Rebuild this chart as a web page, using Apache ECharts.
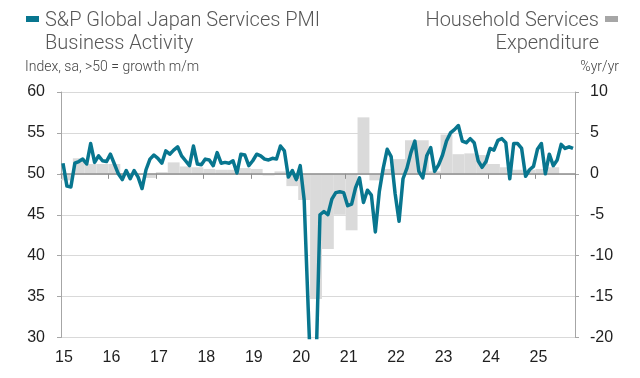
<!DOCTYPE html>
<html><head><meta charset="utf-8">
<script src="https://cdn.jsdelivr.net/npm/echarts@6/dist/echarts.min.js"></script>
<style>html,body{margin:0;padding:0;background:#fff}#c{width:640px;height:378px}</style>
</head><body><div id="c"></div>
<script>
// Year tick labels (Jan of each year, 2015..2025)
const yearLabels = ['15','16','17','18','19','20','21','22','23','24','25'];

// S&P Global Japan Services PMI Business Activity, monthly Jan 2015 - Oct 2025
const pmi2015 = [51.3,48.5,48.4,51.3,51.5,51.8,51.2,53.7,51.4,52.2,51.6,51.5];
const pmi2016 = [52.4,51.2,50.0,49.3,50.4,49.4,50.4,49.6,48.2,50.5,51.8,52.3];
const pmi2017 = [51.9,51.3,52.8,52.4,52.9,53.3,52.2,51.6,51.0,53.4,51.2,51.1];
const pmi2018 = [51.8,51.7,51.0,52.6,51.3,51.4,51.3,51.6,50.1,52.4,52.3,51.0];
const pmi2019 = [51.6,52.4,52.2,51.8,51.7,51.9,51.8,53.4,52.8,49.6,50.4,49.3];
const pmi2020 = [51.0,46.8,33.8,21.5,26.5,45.0,45.4,45.0,46.9,47.7,47.8,47.7];
const pmi2021 = [46.1,46.3,48.3,49.5,46.5,48.0,47.4,42.9,47.8,50.7,53.0,52.1];
const pmi2022 = [47.6,44.2,49.4,50.7,52.6,54.0,50.3,49.5,52.2,53.2,50.3,51.1];
const pmi2023 = [52.3,54.0,55.0,55.4,55.9,54.0,53.8,54.3,53.8,51.6,50.8,51.5];
const pmi2024 = [53.1,52.9,54.1,54.3,53.8,49.4,53.7,53.7,53.1,49.7,50.5,50.9];
const pmi2025 = [53.0,53.7,50.0,52.4,51.0,51.7,53.6,53.1,53.3,53.1];
const pmi = [].concat(pmi2015,pmi2016,pmi2017,pmi2018,pmi2019,pmi2020,pmi2021,pmi2022,pmi2023,pmi2024,pmi2025);

// Household services expenditure, %yr/yr, quarterly Q1 2015 - Q2 2025
const hhs2015 = [-0.8,1.9,1.2,1.2];
const hhs2016 = [1.2,0.1,0.0,-0.5];
const hhs2017 = [0.2,1.4,0.9,0.8];
const hhs2018 = [0.6,0.5,0.5,0.7];
const hhs2019 = [0.6,-0.2,0.3,-1.5];
const hhs2020 = [-3.2,-15.3,-9.2,-5.0];
const hhs2021 = [-6.9,6.9,-0.8,0.6];
const hhs2022 = [1.8,4.1,4.1,0.3];
const hhs2023 = [4.8,2.4,2.5,2.3];
const hhs2024 = [1.2,0.8,0.5,0.5];
const hhs2025 = [0.6,0.8];
const hhs = [].concat(hhs2015,hhs2016,hhs2017,hhs2018,hhs2019,hhs2020,hhs2021,hhs2022,hhs2023,hhs2024,hhs2025);

const TEAL = '#08768f';
const BAR = '#dadada';
const MONTHS = 130;
const grid = {left: 61, right: 65, top: 92, bottom: 40.5};
const plotW = 640 - grid.left - grid.right;

// month index m is plotted at the middle of its month
const lineData = pmi.map((v, i) => [i + 0.5, v]);
const barData = hhs.map((v, q) => [q * 3 + 1.5, v]);

const chart = echarts.init(document.getElementById('c'), null, {renderer: 'canvas'});
const tickFont = {fontFamily: 'Liberation Sans, Arial, sans-serif', fontSize: 16, color: '#1f1f1f'};
const titleFont = '300 20px Roboto, "Noto Sans", sans-serif';
const subFont = '300 14px Roboto, "Noto Sans", sans-serif';
const T = (text, x, y, font, align, fill) => ({type: 'text', style: {text, x, y, font, fill, textAlign: align, textVerticalAlign: 'middle', align, verticalAlign: 'middle'}});

chart.setOption({
  animation: false,
  backgroundColor: '#fff',
  grid: Object.assign({containLabel: false}, grid),
  graphic: [
    {type: 'rect', shape: {x: 26, y: 16, width: 13, height: 6}, style: {fill: TEAL}},
    T('S&P Global Japan Services PMI', 45, 21, titleFont, 'left', '#575757'),
    T('Business Activity', 45, 44, titleFont, 'left', '#575757'),
    T('Index, sa, >50 = growth m/m', 25, 67, subFont, 'left', '#444'),
    {type: 'rect', shape: {x: 605, y: 16, width: 13, height: 6}, style: {fill: '#a6a6a6'}},
    T('Household Services', 599, 21, titleFont, 'right', '#575757'),
    T('Expenditure', 599, 44, titleFont, 'right', '#575757'),
    T('%yr/yr', 619, 67, subFont, 'right', '#444')
  ],
  xAxis: [
    {
      type: 'value', min: 0, max: MONTHS, interval: 12, position: 'bottom',
      axisLine: {show: false, onZero: false},
      axisTick: {show: false},
      splitLine: {show: false},
      axisLabel: Object.assign({
        margin: 12, padding: [0, 0, 0, 6],
        showMaxLabel: false,
        formatter: v => (v % 12 === 0 ? (yearLabels[v / 12] || '') : '')
      }, tickFont)
    },
    {
      type: 'value', min: 0, max: MONTHS, interval: 12, position: 'bottom', z: 2,
      axisLine: {show: true, onZero: true, onZeroAxisIndex: 1, lineStyle: {color: '#8f8f8f', width: 1.5}},
      axisTick: {show: true, length: 5, lineStyle: {color: '#8f8f8f', width: 1}},
      splitLine: {show: false},
      axisLabel: {show: false}
    }
  ],
  yAxis: [
    {
      type: 'value', min: 30, max: 60, interval: 5, position: 'left',
      axisLine: {show: true, onZero: false, lineStyle: {color: '#a6a6a6', width: 1}},
      axisTick: {show: true, length: 4, lineStyle: {color: '#a6a6a6'}},
      splitLine: {show: true, lineStyle: {color: '#d9d9d9', width: 1}},
      axisLabel: Object.assign({margin: 16}, tickFont)
    },
    {
      type: 'value', min: -20, max: 10, interval: 5, position: 'right',
      axisLine: {show: true, onZero: false, lineStyle: {color: '#a6a6a6', width: 1}},
      axisTick: {show: true, length: 4, lineStyle: {color: '#a6a6a6'}},
      splitLine: {show: false},
      axisLabel: Object.assign({margin: 15}, tickFont)
    }
  ],
  series: [
    {
      name: 'Household Services Expenditure', type: 'bar',
      xAxisIndex: 0, yAxisIndex: 1, z: 1,
      barWidth: plotW / MONTHS * 3,
      itemStyle: {color: BAR},
      data: barData
    },
    {
      name: 'S&P Global Japan Services PMI Business Activity', type: 'line',
      xAxisIndex: 0, yAxisIndex: 0, z: 3,
      symbol: 'none', clip: true,
      lineStyle: {color: TEAL, width: 3.5, join: 'round'},
      data: lineData
    }
  ]
});
</script>
</body></html>
